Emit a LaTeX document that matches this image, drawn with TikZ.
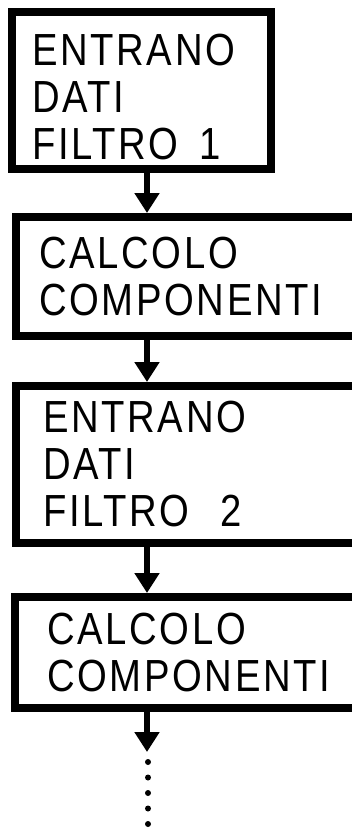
\documentclass[tikz,border=0pt]{standalone}
\usepackage{fontspec}
\newfontfamily\boxfont[FakeStretch=0.85,LetterSpace=6]{Liberation Sans}
\usetikzlibrary{arrows.meta}

\begin{document}
\begin{tikzpicture}[x=1pt, y=-1pt,
    box/.style={draw, line width=8pt, rectangle, anchor=north west, align=left,
      inner ysep=0pt, font=\boxfont\fontsize{45pt}{47pt}\selectfont},
    flow/.style={line width=6pt, -{Triangle[width=24pt,length=20pt]}},
    dots/.style={line width=6pt, line cap=round, dash pattern=on 0pt off 15.5pt}]
    \useasboundingbox (0, 0) rectangle (352, 830);
    \node[box, inner xsep=20pt, text width=219pt, minimum width=259pt, minimum height=157pt]
      (dati1) at (8, 8) {\rule{0pt}{45pt}ENTRANO\\DATI\\FILTRO\hspace{6pt} 1};
    \node[box, inner xsep=18pt, text width=300pt, minimum width=346pt, minimum height=119pt]
      (comp1) at (12, 213) {CALCOLO\\COMPONENTI};
    \node[box, inner xsep=27pt, text width=300pt, minimum width=346pt, minimum height=157pt]
      (dati2) at (12, 382) {ENTRANO\\DATI\\FILTRO\hspace{16pt} 2};
    \node[box, inner xsep=32pt, text width=300pt, minimum width=346pt, minimum height=111pt]
      (comp2) at (11, 593) {CALCOLO\\COMPONENTI};
    \coordinate (axis) at (147, 0);
    \coordinate (more) at (147, 752);
    \coordinate (last) at (148, 830);
    \draw[flow] (axis |- dati1.south) -- (axis |- comp1.north);
    \draw[flow] (axis |- comp1.south) -- (axis |- dati2.north);
    \draw[flow] (axis |- dati2.south) -- (axis |- comp2.north);
    \draw[flow] (axis |- comp2.south) -- (more);
    \draw[dots] ([xshift=1pt, yshift=-10pt]more) -- (last);
\end{tikzpicture}
\end{document}
